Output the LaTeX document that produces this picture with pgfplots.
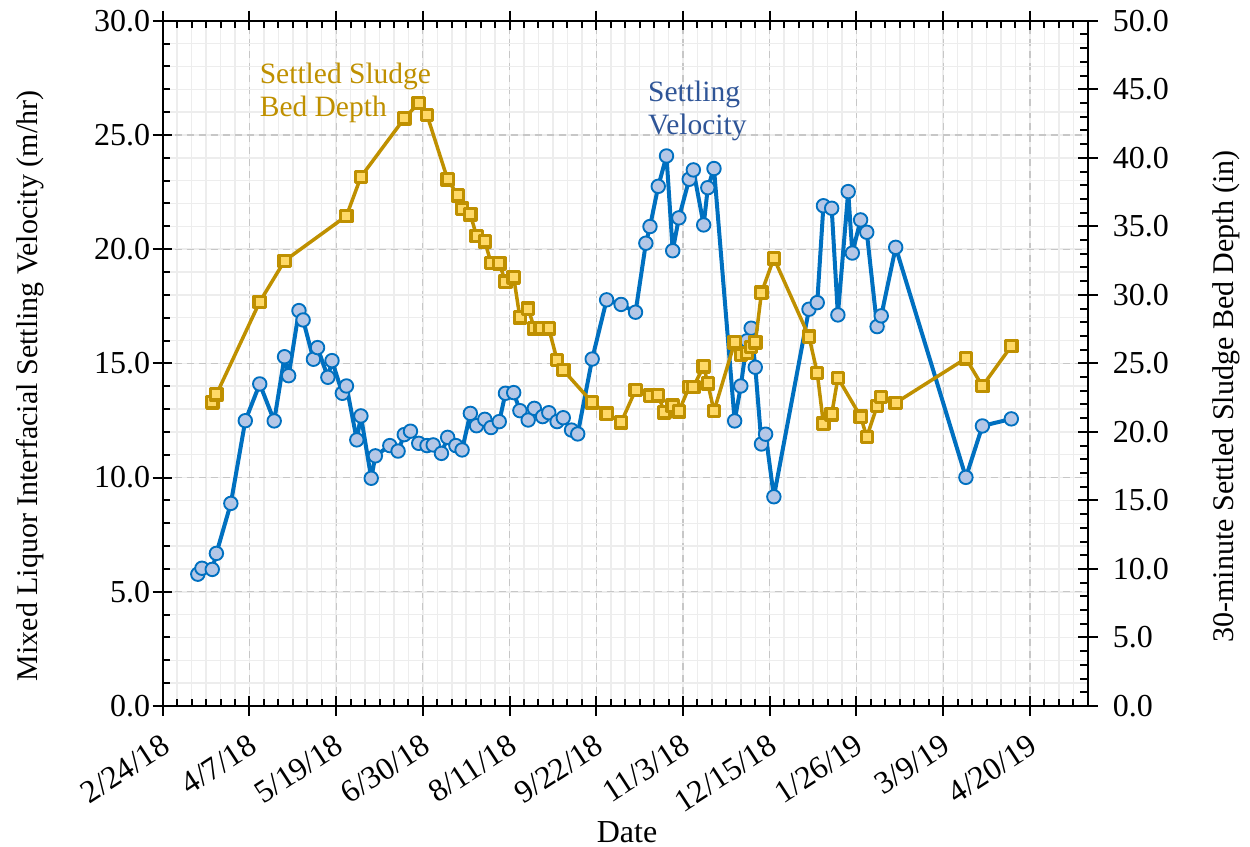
\documentclass[border=0pt]{standalone}
\usepackage{fontspec}
\setmainfont{Liberation Serif}
\usepackage{pgfplots}
\usepackage{pgfplotstable}
\pgfplotsset{compat=1.18}
\definecolor{velblue}{HTML}{0070C0}
\definecolor{velfill}{HTML}{B4C7E7}
\definecolor{sludgegold}{HTML}{BF9000}
\definecolor{sludgefill}{HTML}{FFD966}
\definecolor{veltext}{HTML}{2F5597}

% day 0 = 2/24/18
\pgfplotstableread{
d v
17 5.77
19 6.03
24 5.98
26 6.68
33 8.87
40 12.49
47 14.10
54 12.48
59 15.29
61 14.46
66 17.31
68 16.90
73 15.18
75 15.69
80 14.39
82 15.12
87 13.69
89 14.01
94 11.65
96 12.70
101 9.97
103 10.95
110 11.40
114 11.16
117 11.88
120 12.03
124 11.50
128 11.40
131 11.43
135 11.06
138 11.76
142 11.40
145 11.21
149 12.81
152 12.27
156 12.55
159 12.19
163 12.45
166 13.69
170 13.72
173 12.93
177 12.52
180 13.03
184 12.67
187 12.84
191 12.45
194 12.62
198 12.08
201 11.91
208 15.19
215 17.78
222 17.58
229 17.24
234 20.26
236 20.99
240 22.75
244 24.08
247 19.93
250 21.37
255 23.06
257 23.47
262 21.06
264 22.69
267 23.53
277 12.48
280 14.01
283 15.99
285 16.54
287 14.83
290 11.47
292 11.90
296 9.16
313 17.37
317 17.66
320 21.90
324 21.79
327 17.12
332 22.52
334 19.83
338 21.28
341 20.74
346 16.61
348 17.08
355 20.08
389 10.01
397 12.26
411 12.57
}\veltable

\pgfplotstableread{
d r
24 22.15
26 22.73
47 29.49
59 32.48
89 35.76
96 38.61
117 42.87
124 44.00
128 43.13
138 38.42
143 37.25
145 36.30
149 35.87
152 34.30
156 33.90
159 32.34
163 32.29
166 30.97
170 31.27
173 28.35
177 29.00
180 27.55
183 27.55
187 27.55
191 25.24
194 24.51
208 22.15
215 21.34
222 20.69
229 23.05
236 22.64
240 22.66
243 21.42
247 21.92
250 21.50
255 23.29
257 23.29
262 24.78
264 23.54
267 21.52
277 26.53
280 25.60
283 25.74
285 26.21
287 26.53
290 30.16
296 32.67
313 26.96
317 24.31
320 20.60
324 21.28
327 23.95
338 21.12
341 19.64
346 21.89
348 22.56
355 22.12
389 25.36
397 23.34
411 26.26
}\sludgetable

\begin{document}
\begin{tikzpicture}
\pgfplotsset{
  common/.style={
    scale only axis, width=370pt, height=274.1pt,
    xmin=0, xmax=448,
    tick align=inside,
    major tick length=3.8pt, minor tick length=2.9pt,
    tick style={black, line width=0.8pt},
    axis line style={black, line width=0.8pt},
    tick label style={font=\fontsize{12.8}{14}\selectfont},
    xlabel style={font=\fontsize{12.8}{14}\selectfont},
    ylabel style={font=\fontsize{12}{14}\selectfont},
    /pgf/number format/assume math mode=true,
    yticklabel style={/pgf/number format/.cd, fixed, fixed zerofill, precision=1},
  }
}
\begin{axis}[common,
  ymin=0, ymax=30,
  xtick={0,42,...,420},
  xticklabels={2/24/18,4/7/18,5/19/18,6/30/18,8/11/18,9/22/18,11/3/18,12/15/18,1/26/19,3/9/19,4/20/19},
  minor xtick={7,14,...,448},
  ytick={0,5,...,30},
  minor ytick={1,2,...,29},
  ytick pos=left,
  xtick pos=both,
  xticklabel pos=lower,
  grid=both,
  major grid style={color=black!22, dash pattern=on 2.8pt off 2pt, line width=0.5pt},
  minor grid style={color=black!7, line width=0.6pt},
  xticklabel style={rotate=33, anchor=north east},
  xticklabel shift=6pt,
  yticklabel shift=1.5pt,
  extra x ticks={0,42,...,420}, extra x tick labels={},
  extra x tick style={tick align=outside, major tick length=4pt, grid=none},
  extra y ticks={0,5,...,30}, extra y tick labels={},
  extra y tick style={tick align=outside, major tick length=4pt, grid=none},
  xlabel={Date},
  ylabel={Mixed Liquor Interfacial Settling Velocity (m/hr)},
  xlabel style={at={(axis description cs:0.502,-0.1839)}, anchor=center},
  ylabel style={at={(axis description cs:-0.1435,0.467)}, anchor=center},
]
\addplot[velblue, line width=1.6pt, line join=round, mark=*, mark size=2.7pt,
  mark options={fill=velfill, draw=velblue, line width=0.75pt, solid}]
  table[x=d, y=v]{\veltable};
\node[anchor=north west, inner sep=0pt, align=left, text=sludgegold,
  font=\fontsize{11.8}{13.2}\selectfont] at (axis cs:46.8,28.17) {Settled Sludge\\Bed Depth};
\node[anchor=north west, inner sep=0pt, align=left, text=veltext,
  font=\fontsize{11.8}{13.2}\selectfont] at (axis cs:234.9,27.4) {Settling\\Velocity};
\end{axis}
\begin{axis}[common,
  ymin=0, ymax=50,
  axis x line=none,
  axis y line*=right,
  xtick=\empty,
  ytick={0,5,...,50},
  minor ytick={1,2,...,49},
  ytick pos=right,
  yticklabel pos=right,
  yticklabel shift=6.5pt,
  extra y ticks={0,5,...,50}, extra y tick labels={},
  extra y tick style={tick align=outside, major tick length=4pt, grid=none},
  ylabel={30-minute Settled Sludge Bed Depth (in)},
  ylabel style={at={(axis description cs:1.1495,0.452)}, anchor=center, rotate=0},
]
\addplot[sludgegold, line width=1.4pt, line join=round, mark=square*, mark size=2.25pt,
  mark options={fill=sludgefill, draw=sludgegold, line width=1.3pt, solid}]
  table[x=d, y=r]{\sludgetable};
\end{axis}
\pgfresetboundingbox
\path (-65.08pt,-56.4pt) rectangle (434.92pt,282.4pt);
\end{tikzpicture}
\end{document}
